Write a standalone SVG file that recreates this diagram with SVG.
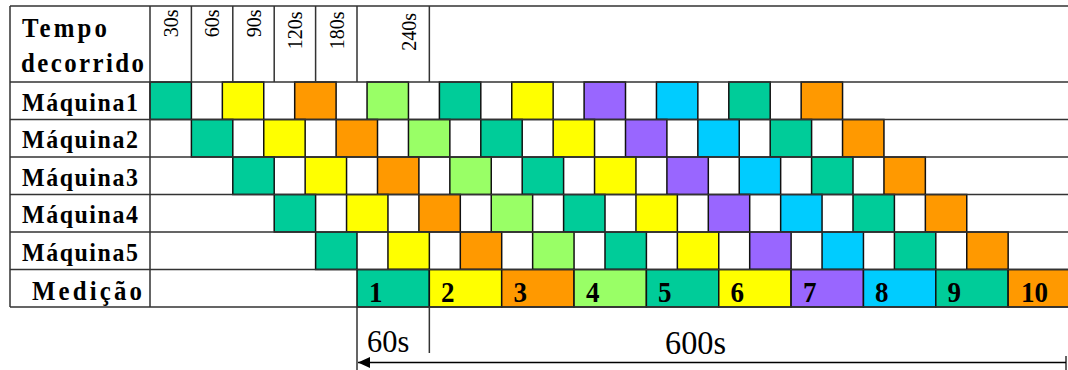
<svg xmlns="http://www.w3.org/2000/svg" width="1068" height="370" viewBox="0 0 1068 370">
<style>
.g{stroke:#333;stroke-width:1.5;fill:none}
.c{stroke:#111;stroke-width:1.5}
.t{fill:#00CC99}.y{fill:#FFFF00}.o{fill:#FF9900}.l{fill:#99FF66}.p{fill:#9966FF}.b{fill:#00CCFF}
.lab{font-family:'Liberation Serif','Times New Roman',serif;font-weight:bold;font-size:26px;fill:#000}
.hd{font-family:'Liberation Serif','Times New Roman',serif;font-size:20px;fill:#000}
.num{font-family:'Liberation Serif','Times New Roman',serif;font-weight:bold;font-size:30px;fill:#000}
.big{font-family:'Liberation Serif','Times New Roman',serif;font-size:31px;fill:#000}
</style>
<defs>
<marker id="ah" markerWidth="12" markerHeight="12" refX="0" refY="6" orient="auto" markerUnits="userSpaceOnUse">
<path d="M0,6 L12,0.5 L12,11.5 Z" fill="#000"/>
</marker>
</defs>
<rect width="1068" height="370" fill="#fff"/>

<g id="row1">
<rect class="c t" x="150" y="82" width="41.4" height="37.5"/>
<rect class="c y" x="222.35" y="82" width="41.4" height="37.5"/>
<rect class="c o" x="294.7" y="82" width="41.4" height="37.5"/>
<rect class="c l" x="367.05" y="82" width="41.4" height="37.5"/>
<rect class="c t" x="439.4" y="82" width="41.4" height="37.5"/>
<rect class="c y" x="511.75" y="82" width="41.4" height="37.5"/>
<rect class="c p" x="584.1" y="82" width="41.4" height="37.5"/>
<rect class="c b" x="656.45" y="82" width="41.4" height="37.5"/>
<rect class="c t" x="728.8" y="82" width="41.4" height="37.5"/>
<rect class="c o" x="801.15" y="82" width="41.4" height="37.5"/>
</g>
<g id="row2">
<rect class="c t" x="191.4" y="119.5" width="41.4" height="37.5"/>
<rect class="c y" x="263.75" y="119.5" width="41.4" height="37.5"/>
<rect class="c o" x="336.1" y="119.5" width="41.4" height="37.5"/>
<rect class="c l" x="408.45" y="119.5" width="41.4" height="37.5"/>
<rect class="c t" x="480.8" y="119.5" width="41.4" height="37.5"/>
<rect class="c y" x="553.15" y="119.5" width="41.4" height="37.5"/>
<rect class="c p" x="625.5" y="119.5" width="41.4" height="37.5"/>
<rect class="c b" x="697.85" y="119.5" width="41.4" height="37.5"/>
<rect class="c t" x="770.2" y="119.5" width="41.4" height="37.5"/>
<rect class="c o" x="842.55" y="119.5" width="41.4" height="37.5"/>
</g>
<g id="row3">
<rect class="c t" x="232.8" y="157" width="41.4" height="37.5"/>
<rect class="c y" x="305.15" y="157" width="41.4" height="37.5"/>
<rect class="c o" x="377.5" y="157" width="41.4" height="37.5"/>
<rect class="c l" x="449.85" y="157" width="41.4" height="37.5"/>
<rect class="c t" x="522.2" y="157" width="41.4" height="37.5"/>
<rect class="c y" x="594.55" y="157" width="41.4" height="37.5"/>
<rect class="c p" x="666.9" y="157" width="41.4" height="37.5"/>
<rect class="c b" x="739.25" y="157" width="41.4" height="37.5"/>
<rect class="c t" x="811.6" y="157" width="41.4" height="37.5"/>
<rect class="c o" x="883.95" y="157" width="41.4" height="37.5"/>
</g>
<g id="row4">
<rect class="c t" x="274.2" y="194.5" width="41.4" height="37.5"/>
<rect class="c y" x="346.55" y="194.5" width="41.4" height="37.5"/>
<rect class="c o" x="418.9" y="194.5" width="41.4" height="37.5"/>
<rect class="c l" x="491.25" y="194.5" width="41.4" height="37.5"/>
<rect class="c t" x="563.6" y="194.5" width="41.4" height="37.5"/>
<rect class="c y" x="635.95" y="194.5" width="41.4" height="37.5"/>
<rect class="c p" x="708.3" y="194.5" width="41.4" height="37.5"/>
<rect class="c b" x="780.65" y="194.5" width="41.4" height="37.5"/>
<rect class="c t" x="853" y="194.5" width="41.4" height="37.5"/>
<rect class="c o" x="925.35" y="194.5" width="41.4" height="37.5"/>
</g>
<g id="row5">
<rect class="c t" x="315.6" y="232" width="41.4" height="37.5"/>
<rect class="c y" x="387.95" y="232" width="41.4" height="37.5"/>
<rect class="c o" x="460.3" y="232" width="41.4" height="37.5"/>
<rect class="c l" x="532.65" y="232" width="41.4" height="37.5"/>
<rect class="c t" x="605" y="232" width="41.4" height="37.5"/>
<rect class="c y" x="677.35" y="232" width="41.4" height="37.5"/>
<rect class="c p" x="749.7" y="232" width="41.4" height="37.5"/>
<rect class="c b" x="822.05" y="232" width="41.4" height="37.5"/>
<rect class="c t" x="894.4" y="232" width="41.4" height="37.5"/>
<rect class="c o" x="966.75" y="232" width="41.4" height="37.5"/>
</g>
<g id="medicao">
<rect class="c t" x="357" y="269.5" width="72.35" height="37.5"/>
<rect class="c y" x="429.35" y="269.5" width="72.35" height="37.5"/>
<rect class="c o" x="501.7" y="269.5" width="72.35" height="37.5"/>
<rect class="c l" x="574.05" y="269.5" width="72.35" height="37.5"/>
<rect class="c t" x="646.4" y="269.5" width="72.35" height="37.5"/>
<rect class="c y" x="718.75" y="269.5" width="72.35" height="37.5"/>
<rect class="c p" x="791.1" y="269.5" width="72.35" height="37.5"/>
<rect class="c b" x="863.45" y="269.5" width="72.35" height="37.5"/>
<rect class="c t" x="935.8" y="269.5" width="72.35" height="37.5"/>
<rect class="c o" x="1008.15" y="269.5" width="72.35" height="37.5"/>
<text class="num" transform="translate(369,301.5) scale(0.9,1)">1</text>
<text class="num" transform="translate(441,301.5) scale(0.9,1)">2</text>
<text class="num" transform="translate(513.5,301.5) scale(0.9,1)">3</text>
<text class="num" transform="translate(586,301.5) scale(0.9,1)">4</text>
<text class="num" transform="translate(658,301.5) scale(0.9,1)">5</text>
<text class="num" transform="translate(730.5,301.5) scale(0.9,1)">6</text>
<text class="num" transform="translate(803,301.5) scale(0.9,1)">7</text>
<text class="num" transform="translate(875,301.5) scale(0.9,1)">8</text>
<text class="num" transform="translate(947.5,301.5) scale(0.9,1)">9</text>
<text class="num" transform="translate(1021,301.5) scale(0.9,1)">10</text>
</g>

<g id="grid">
<path class="g" d="M10,6H1068 M10,82H1068 M10,119.5H1068 M10,157H1068 M10,194.5H1068 M10,232H1068 M10,269.5H1068 M10,307H1068"/>
<path class="g" d="M10,6V307 M150,6V307 M191.4,6V82 M232.8,6V82 M274.2,6V82 M315.6,6V82 M357,6V82 M429.35,6V82"/>
</g>

<g id="labels">
<text class="lab" transform="translate(22,37) scale(0.92,1)" textLength="92.4" lengthAdjust="spacing" style="font-size:27px">Tempo</text>
<text class="lab" transform="translate(21,72) scale(0.92,1)" textLength="133.7" lengthAdjust="spacing" style="font-size:27px">decorrido</text>
<text class="lab" transform="translate(22,110.5) scale(0.92,1)" textLength="126" lengthAdjust="spacing">Máquina1</text>
<text class="lab" transform="translate(22,148) scale(0.92,1)" textLength="126" lengthAdjust="spacing">Máquina2</text>
<text class="lab" transform="translate(22,185.5) scale(0.92,1)" textLength="126" lengthAdjust="spacing">Máquina3</text>
<text class="lab" transform="translate(22,223) scale(0.92,1)" textLength="126" lengthAdjust="spacing">Máquina4</text>
<text class="lab" transform="translate(22,260.5) scale(0.92,1)" textLength="126" lengthAdjust="spacing">Máquina5</text>
<text class="lab" transform="translate(32,300) scale(0.92,1)" textLength="119.6" lengthAdjust="spacing" style="font-size:27px">Medição</text>
</g>

<g id="header">
<text class="hd" text-anchor="end" transform="translate(177.5,9.5) rotate(-90)">30s</text>
<text class="hd" text-anchor="end" transform="translate(219,9.5) rotate(-90)">60s</text>
<text class="hd" text-anchor="end" transform="translate(260.5,9.5) rotate(-90)">90s</text>
<text class="hd" text-anchor="end" transform="translate(302.3,11.5) rotate(-90)">120s</text>
<text class="hd" text-anchor="end" transform="translate(344,11.5) rotate(-90)">180s</text>
<text class="hd" text-anchor="end" transform="translate(415.7,13) rotate(-90)">240s</text>
</g>

<g id="connectors">
<path class="g" d="M357,307V370 M429.35,307V353 M1066,356V370"/>
<line x1="358" y1="362.5" x2="1066" y2="362.5" stroke="#000" stroke-width="1.5" marker-start="url(#ah)"/>
</g>
<g id="bottomlabels">
<text class="big" transform="translate(367,351.5) scale(0.95,1)" style="font-size:32px">60s</text>
<text class="big" transform="translate(665,354) scale(0.95,1)" style="font-size:34px">600s</text>
</g>
</svg>
